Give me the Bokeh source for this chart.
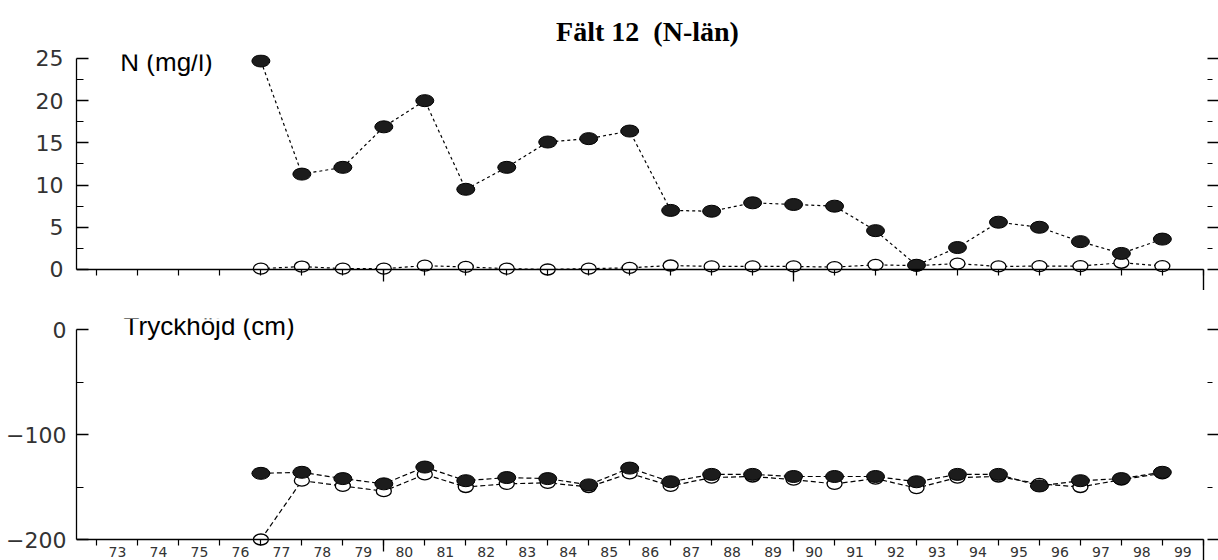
from bokeh.plotting import figure
from bokeh.models import Range1d, FixedTicker, LinearAxis, Label, ColumnDataSource
from bokeh.layouts import column
from bokeh.embed import file_html
from bokeh.resources import INLINE

# ---- data ----
years = list(range(77, 100))                      # sample years (start of year)
label_years = list(range(73, 100))                # x-axis year labels
year_labels = [str(y) for y in label_years]
year_bounds = list(range(73, 101))                # year boundary tick marks
decades = [80, 90]                                # longer tick marks
axis_end = [100]                                  # end tick mark

n_filled = [24.7, 11.3, 12.1, 16.9, 20.0, 9.5, 12.1, 15.1, 15.5, 16.4, 7.0, 6.9,
            7.9, 7.7, 7.5, 4.6, 0.5, 2.6, 5.6, 5.0, 3.3, 1.9, 3.6]
n_open = [0.1, 0.35, 0.1, 0.1, 0.45, 0.3, 0.1, 0.0, 0.1, 0.2, 0.47, 0.36,
          0.36, 0.36, 0.28, 0.55, 0.45, 0.7, 0.36, 0.4, 0.4, 0.8, 0.4]

p_filled = [-137, -136, -142, -147, -131, -144, -141, -142, -148, -132, -145, -138,
            -138, -140, -140, -140, -145, -138, -138, -149, -144, -142, -136]
p_open = [-200, -144, -149, -154, -138, -150, -147, -146, -150, -137, -149, -141,
          -140, -143, -147, -142, -151, -141, -140, -147, -150, -143, -137]

n_ticks = [0, 5, 10, 15, 20, 25]
n_minor = [2.5, 7.5, 12.5, 17.5, 22.5]
p_ticks = [-200, -100, 0]
p_minor = [-150, -50]

TICK_FONT = "DejaVu Sans"
LABEL_FONT = "Liberation Sans"


def base_fig(height, y_range, border_top, title=None):
    p = figure(width=1218, height=height, x_range=Range1d(72.5, 100.37), y_range=y_range,
               output_backend="svg", toolbar_location=None,
               min_border_left=76, min_border_right=0,
               min_border_top=border_top, min_border_bottom=0,
               title=title)
    p.outline_line_color = None
    p.grid.visible = False
    p.background_fill_color = "white"
    p.border_fill_color = "white"
    return p


def tick_axis(p, side, loc, positions, length, width=1.2):
    ax = LinearAxis(ticker=FixedTicker(ticks=[], minor_ticks=positions))
    ax.fixed_location = loc
    ax.axis_line_alpha = 0
    ax.major_tick_in = 0
    ax.major_tick_out = 0
    ax.minor_tick_in = 0
    ax.minor_tick_out = length
    ax.minor_tick_line_width = width
    ax.minor_tick_line_color = "black"
    p.add_layout(ax, side)


def style_y(p, ticks, minor, bounds, standoff):
    ax = p.yaxis[0]
    ax.ticker = FixedTicker(ticks=ticks, minor_ticks=minor)
    ax.bounds = bounds
    ax.axis_line_color = "black"
    ax.axis_line_width = 1.3
    ax.major_tick_in = 12
    ax.major_tick_out = 0
    ax.minor_tick_in = 7
    ax.minor_tick_out = 0
    ax.major_tick_line_width = 1.3
    ax.major_label_text_font = TICK_FONT
    ax.major_label_text_font_size = "22px"
    ax.major_label_text_color = "#333333"
    ax.major_label_standoff = standoff
    # right-hand tick marks (no axis line), slightly off the frame edge
    tick_axis(p, "right", 100.1, ticks, 11, 1.4)
    tick_axis(p, "right", 100.1, minor, 5, 1.0)


def style_x(p, loc, labels):
    ax = p.xaxis[0]
    ax.fixed_location = loc
    ax.bounds = (72.5, 100)
    ax.axis_line_color = "black"
    ax.axis_line_width = 1.3
    ax.major_tick_in = 0
    ax.major_tick_out = 0
    ax.minor_tick_in = 0
    ax.minor_tick_out = 6
    ax.minor_tick_line_width = 1.2
    if labels:
        ax.ticker = FixedTicker(ticks=[y + 0.5 for y in label_years], minor_ticks=year_bounds)
        ax.major_label_overrides = {y + 0.5: s for y, s in zip(label_years, year_labels)}
        ax.major_label_text_font = TICK_FONT
        ax.major_label_text_font_size = "14px"
        ax.major_label_text_color = "#333333"
        ax.major_label_standoff = 1
    else:
        ax.ticker = FixedTicker(ticks=[], minor_ticks=year_bounds)
    tick_axis(p, "below", loc, decades, 12, 1.3)
    tick_axis(p, "below", loc, axis_end, 21, 1.4)


def draw_series(p, xs, y_open, y_filled, dash):
    so = ColumnDataSource(dict(x=xs, y=y_open))
    sf = ColumnDataSource(dict(x=xs, y=y_filled))
    p.line("x", "y", source=so, line_color="black", line_dash=dash, line_width=1.2)
    p.ellipse("x", "y", source=so, width=15, height=11, width_units="screen",
              height_units="screen", fill_color="white", line_color="black", line_width=1.3)
    p.line("x", "y", source=sf, line_color="black", line_dash=dash, line_width=1.2)
    p.ellipse("x", "y", source=sf, width=18, height=12, width_units="screen",
              height_units="screen", fill_color="#1c1c1c", line_color="black", line_width=1)


# ---- top panel: N (mg/l) ----
p1 = base_fig(290, Range1d(-2.49, 25.47), 54, title="Fält 12\u00a0\u00a0(N-län)")
p1.title.align = "center"
p1.title.text_font = "Liberation Serif"
p1.title.text_font_style = "bold"
p1.title.text_font_size = "28px"
p1.title.text_color = "black"
p1.title.standoff = 15
style_y(p1, n_ticks, n_minor, (0, 25), 13)
style_x(p1, 0, False)
draw_series(p1, years, n_open, n_filled, "3 3")
p1.add_layout(Label(x=73.57, y=24.6, text="N (mg/l)", text_baseline="middle",
                    text_font=LABEL_FONT, text_font_size="26px", text_color="black"))

# ---- bottom panel: Tryckhöjd (cm) ----
p2 = base_fig(270, Range1d(-220.0, 10.48), 28)
style_y(p2, p_ticks, p_minor, (-200, 0), 10)
style_x(p2, -200, True)
draw_series(p2, years, p_open, p_filled, "5 3")
p2.add_layout(Label(x=73.65, y=3.8, text="Tryckhöjd (cm)", text_baseline="middle",
                    text_font=LABEL_FONT, text_font_size="26px", text_color="black"))

layout = column(p1, p2, spacing=0)
open("out.html", "w").write(file_html(layout, INLINE))
